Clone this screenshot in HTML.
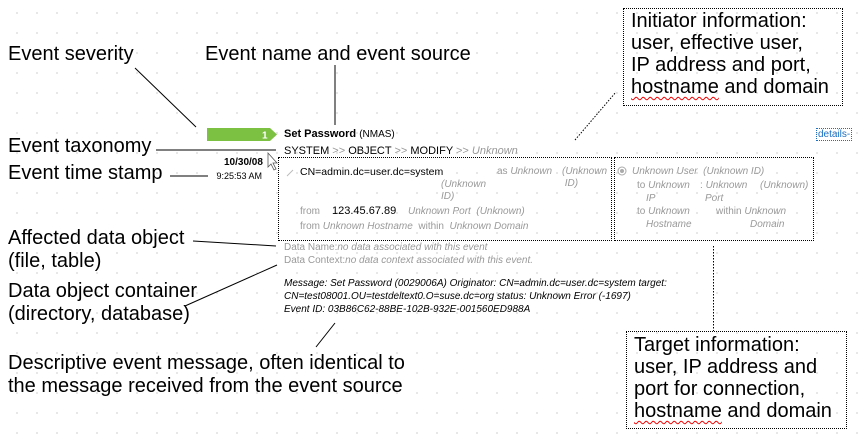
<!DOCTYPE html>
<html><head><meta charset="utf-8"><style>
html,body{margin:0;padding:0}
body{width:863px;height:438px;position:relative;overflow:hidden;background:#fff;
background-image:radial-gradient(circle,#c8c8c8 0.6px,transparent 0.9px);background-size:20px 20px;background-position:7px 3px;
font-family:"Liberation Sans",Arial,sans-serif}
.a{position:absolute;white-space:nowrap}
.L{font-size:20px;color:#000;line-height:23px}
.s{font-size:10px;color:#999;line-height:12px}
.i{font-style:italic}
.k{color:#000}
.box{position:absolute;border:1px dotted #000}
.wave{text-decoration:underline wavy #e00;text-decoration-thickness:1px;text-underline-offset:3px}
</style></head><body>
<svg class="a" style="left:0;top:0" width="863" height="438">
<g stroke="#000" stroke-width="1" fill="none">
<line x1="135" y1="68" x2="196" y2="127"/>
<line x1="156" y1="150" x2="276" y2="150"/>
<line x1="170" y1="176" x2="208" y2="176"/>
<line x1="335" y1="65" x2="335" y2="125"/>
<line x1="193" y1="241" x2="276" y2="246"/>
<line x1="185" y1="306" x2="277" y2="265"/>
<line x1="335" y1="323" x2="316" y2="347"/>
<line x1="575" y1="140" x2="616" y2="92" stroke-dasharray="1.5 1.5"/>
<line x1="713.5" y1="246" x2="713.5" y2="331" stroke-dasharray="1.5 1.5"/>
</g>
<polygon points="207,128 270,128 277,134.5 270,141 207,141" fill="#7cc142"/>
<text x="262" y="138.5" font-size="10" font-weight="bold" fill="#fff" font-family="Liberation Sans">1</text>
<path d="M268 153 L268 167 L271 164 L274 170 L276 169 L273 163 L277 163 Z" fill="#fff" stroke="#555" stroke-width="0.8"/>
<line x1="287" y1="176" x2="293" y2="170" stroke="#bbb"/>
<circle cx="622" cy="171" r="4" fill="none" stroke="#aaa"/><circle cx="622" cy="171" r="2" fill="#aaa"/>
</svg>

<div class="a L" style="left:8px;top:43px">Event severity</div>
<div class="a L" style="left:205px;top:43px">Event name and event source</div>
<div class="a L" style="left:8px;top:135px">Event taxonomy</div>
<div class="a L" style="left:8px;top:162px">Event time stamp</div>
<div class="a L" style="left:8px;top:227px">Affected data object<br>(file, table)</div>
<div class="a L" style="left:8px;top:280px">Data object container<br>(directory, database)</div>
<div class="a L" style="left:8px;top:352px">Descriptive event message, often identical to<br>the message received from the event source</div>

<div class="box" style="left:623px;top:8px;width:218px;height:96px"></div>
<div class="a L" style="left:631px;top:10px;line-height:22px">Initiator information:<br>user, effective user,<br>IP address and port,<br><span class="wave">hostname</span> and domain</div>
<div class="box" style="left:626px;top:331px;width:219px;height:96px"></div>
<div class="a L" style="left:634px;top:334px;line-height:22px">Target information:<br>user, IP address and<br>port for connection,<br><span class="wave">hostname</span> and domain</div>

<div class="a" style="left:284px;top:128px;font-size:11px"><b>Set Password</b> <span style="font-size:10px">(NMAS)</span></div>
<div class="a s" style="left:284px;top:145px;font-size:11px"><span class="k">SYSTEM</span> &gt;&gt; <span class="k">OBJECT</span> &gt;&gt; <span class="k">MODIFY</span> &gt;&gt; <span class="i">Unknown</span></div>
<div class="a" style="left:224px;top:157px;font-size:10px;font-weight:bold;width:38px;text-align:right">10/30/08</div>
<div class="a" style="left:210px;top:171px;font-size:9px;width:52px;text-align:right">9:25:53 AM</div>
<div class="a" style="left:816px;top:128px;font-size:10px;color:#1a6fc4;border:1px dotted #1a6fc4;padding:0 1px">details-</div>

<div class="box" style="left:278px;top:157px;width:332px;height:82px"></div>
<div class="a" style="left:300px;top:166px;font-size:10.5px">CN=admin.dc=user.dc=system</div>
<div class="a s" style="left:497px;top:166px">as <span class="i">Unknown</span></div>
<div class="a s i" style="left:562px;top:166px">(Unknown<br>&nbsp;ID)</div>
<div class="a s i" style="left:441px;top:179px">(Unknown<br>ID)</div>
<div class="a s" style="left:300px;top:206px">from</div>
<div class="a" style="left:332px;top:205px;font-size:11px">123.45.67.89</div>
<div class="a s i" style="left:408px;top:206px">Unknown Port &nbsp;(Unknown)</div>
<div class="a s" style="left:300px;top:221px">from <span class="i">Unknown Hostname</span> &nbsp;within &nbsp;<span class="i">Unknown Domain</span></div>

<div class="box" style="left:614px;top:157px;width:198px;height:82px"></div>
<div class="a s i" style="left:632px;top:166px">Unknown User &nbsp;(Unknown ID)</div>
<div class="a s" style="left:637px;top:180px">to <span class="i">Unknown</span></div>
<div class="a s" style="left:700px;top:180px">: <span class="i">Unknown</span></div>
<div class="a s i" style="left:760px;top:180px">(Unknown)</div>
<div class="a s i" style="left:646px;top:193px">IP</div>
<div class="a s i" style="left:705px;top:193px">Port</div>
<div class="a s" style="left:637px;top:206px">to <span class="i">Unknown</span></div>
<div class="a s" style="left:716px;top:206px">within <span class="i">Unknown</span></div>
<div class="a s i" style="left:646px;top:219px">Hostname</div>
<div class="a s i" style="left:750px;top:219px">Domain</div>

<div class="a s" style="left:284px;top:242px">Data Name:<span class="i">no data associated with this event</span></div>
<div class="a s" style="left:284px;top:255px">Data Context:<span class="i">no data context associated with this event.</span></div>
<div class="a i" style="left:284px;top:277px;font-size:10px;line-height:13px;color:#000">Message: Set Password (0029006A) Originator: CN=admin.dc=user.dc=system target:<br>CN=test08001.OU=testdeltext0.O=suse.dc=org status: Unknown Error (-1697)<br>Event ID: 03B86C62-88BE-102B-932E-001560ED988A</div>
</body></html>
